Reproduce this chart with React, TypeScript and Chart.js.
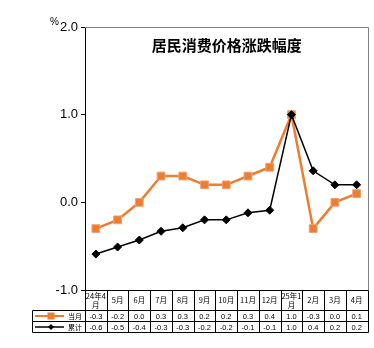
import React, { useEffect, useRef } from "react";
import { Chart, registerables } from "chart.js";

Chart.register(...registerables);

const TITLE = "居民消费价格涨跌幅度";
const UNIT = "%";
const categories: (string | string[])[] = [
  ["24年4", "月"], "5月", "6月", "7月", "8月", "9月", "10月", "11月", "12月",
  ["25年1", "月"], "2月", "3月", "4月",
];
const seriesMonthName = "当月";
const seriesMonth = [-0.3, -0.2, 0.0, 0.3, 0.3, 0.2, 0.2, 0.3, 0.4, 1.0, -0.3, 0.0, 0.1];
const seriesCumName = "累计";
const seriesCum = [-0.59, -0.51, -0.43, -0.33, -0.29, -0.2, -0.2, -0.12, -0.09, 1.0, 0.36, 0.2, 0.2];
const yTicks = [-1, 0, 1, 2];

const ORANGE = "#ED7D31";
const BLACK = "#000000";
const FONT = "'Liberation Sans', Arial, sans-serif";
const CJK = "'Noto Sans CJK SC', sans-serif";

const tablePlugin = {
  id: "tablePlugin",
  afterDraw(chart: any) {
    const ctx = chart.ctx as CanvasRenderingContext2D;
    const area = chart.chartArea;
    const xs = chart.scales.x;
    const n = categories.length;
    const step = xs.getPixelForValue(1) - xs.getPixelForValue(0);
    ctx.save();
    // gray frame top/right
    ctx.strokeStyle = "#808080";
    ctx.lineWidth = 1;
    ctx.beginPath();
    ctx.moveTo(Math.round(area.left), Math.round(area.top) + 0.5);
    ctx.lineTo(Math.round(area.right) + 0.5, Math.round(area.top) + 0.5);
    ctx.lineTo(Math.round(area.right) + 0.5, Math.round(area.bottom));
    ctx.stroke();

    // title
    ctx.fillStyle = "#000";
    ctx.font = `bold 15px ${CJK}`;
    ctx.textAlign = "center";
    ctx.textBaseline = "middle";
    ctx.fillText(TITLE, (area.left + area.right) / 2 + 0.5, 45);

    // unit
    ctx.font = `10px ${FONT}`;
    ctx.textAlign = "left";
    ctx.textBaseline = "alphabetic";
    ctx.fillText(UNIT, 50, 25);

    // table
    const yTop = Math.round(area.bottom) + 0.5;
    const yH = 310.5;
    const yR1 = 321.5;
    const yR2 = 332.5;
    const legLeft = 32.5;
    ctx.strokeStyle = "#000";
    ctx.lineWidth = 1;
    ctx.beginPath();
    // horizontal lines
    ctx.moveTo(area.left, yTop);
    ctx.lineTo(area.right + 1, yTop);
    ctx.moveTo(legLeft, yH);
    ctx.lineTo(area.right + 1, yH);
    ctx.moveTo(legLeft, yR1);
    ctx.lineTo(area.right + 1, yR1);
    ctx.moveTo(legLeft, yR2);
    ctx.lineTo(area.right + 1, yR2);
    // vertical lines
    for (let i = 0; i <= n; i++) {
      const x = Math.round(xs.getPixelForValue(i) - step / 2) + 0.5;
      ctx.moveTo(x, yTop);
      ctx.lineTo(x, yR2);
    }
    ctx.moveTo(legLeft, yH);
    ctx.lineTo(legLeft, yR2);
    ctx.stroke();

    // header labels
    ctx.fillStyle = "#000";
    ctx.textAlign = "center";
    ctx.textBaseline = "middle";
    for (let i = 0; i < n; i++) {
      const cx = xs.getPixelForValue(i);
      const lab = categories[i];
      ctx.font = `7.5px ${CJK}`;
      if (Array.isArray(lab)) {
        ctx.fillText(lab[0], cx, 296);
        ctx.fillText(lab[1], cx, 305);
      } else {
        ctx.fillText(lab, cx, 300);
      }
      ctx.font = `7.5px ${FONT}`;
      ctx.fillText(seriesMonth[i].toFixed(1), cx, (yH + yR1) / 2 + 0.5);
      ctx.fillText(seriesCum[i].toFixed(1), cx, (yR1 + yR2) / 2 + 0.5);
    }

    // legend
    const r1 = (yH + yR1) / 2;
    const r2 = (yR1 + yR2) / 2;
    ctx.strokeStyle = ORANGE;
    ctx.lineWidth = 2;
    ctx.beginPath();
    ctx.moveTo(35, r1);
    ctx.lineTo(64, r1);
    ctx.stroke();
    ctx.fillStyle = ORANGE;
    ctx.fillRect(47.5, r1 - 3.5, 7, 7);
    ctx.strokeStyle = BLACK;
    ctx.lineWidth = 1.5;
    ctx.beginPath();
    ctx.moveTo(35, r2);
    ctx.lineTo(64, r2);
    ctx.stroke();
    ctx.fillStyle = BLACK;
    ctx.beginPath();
    ctx.moveTo(51, r2 - 3);
    ctx.lineTo(54, r2);
    ctx.lineTo(51, r2 + 3);
    ctx.lineTo(48, r2);
    ctx.closePath();
    ctx.fill();
    ctx.fillStyle = "#000";
    ctx.font = `7px ${CJK}`;
    ctx.textAlign = "left";
    ctx.fillText(seriesMonthName, 68, r1 + 0.5);
    ctx.fillText(seriesCumName, 68, r2 + 0.5);
    ctx.restore();
  },
};

export default function App() {
  const ref = useRef<HTMLCanvasElement | null>(null);
  useEffect(() => {
    if (!ref.current) return;
    const chart = new Chart(ref.current, {
      type: "line",
      data: {
        labels: categories as any,
        datasets: [
          {
            label: seriesMonthName,
            data: seriesMonth,
            borderColor: ORANGE,
            backgroundColor: ORANGE,
            borderWidth: 2.5,
            pointStyle: "rect",
            pointRadius: 5.5,
            pointBorderWidth: 1,
            pointBorderColor: "#F0A070",
            order: 1,
          },
          {
            label: seriesCumName,
            data: seriesCum,
            borderColor: BLACK,
            backgroundColor: BLACK,
            borderWidth: 1.5,
            pointStyle: "rectRot",
            pointRadius: 4,
            pointBorderWidth: 1,
            order: 0,
          },
        ],
      },
      options: {
        responsive: false,
        animation: false,
        layout: { padding: { left: 0, right: 2, top: 27, bottom: 58 } },
        plugins: { legend: { display: false }, tooltip: { enabled: false }, title: { display: false } },
        scales: {
          x: { type: "category", display: false, offset: true },
          y: {
            min: -1,
            max: 2,
            afterBuildTicks: (scale: any) => {
              scale.ticks = yTicks.map((v) => ({ value: v }));
            },
            afterFit: (scale: any) => {
              scale.width = 85;
            },
            ticks: {
              callback: (v: any) => Number(v).toFixed(1),
              color: "#000",
              font: { size: 13, family: FONT },
              padding: 3,
            },
            grid: { drawOnChartArea: false, drawTicks: true, tickLength: 4, color: "#000" },
            border: { color: "#000", width: 1 },
          },
        },
      },
      plugins: [tablePlugin],
    });
    return () => chart.destroy();
  }, []);
  return (
    <div style={{ position: "fixed", left: 0, top: 0, width: 374, height: 348, background: "#fff" }}>
      <canvas ref={ref} width={374} height={348} />
    </div>
  );
}
